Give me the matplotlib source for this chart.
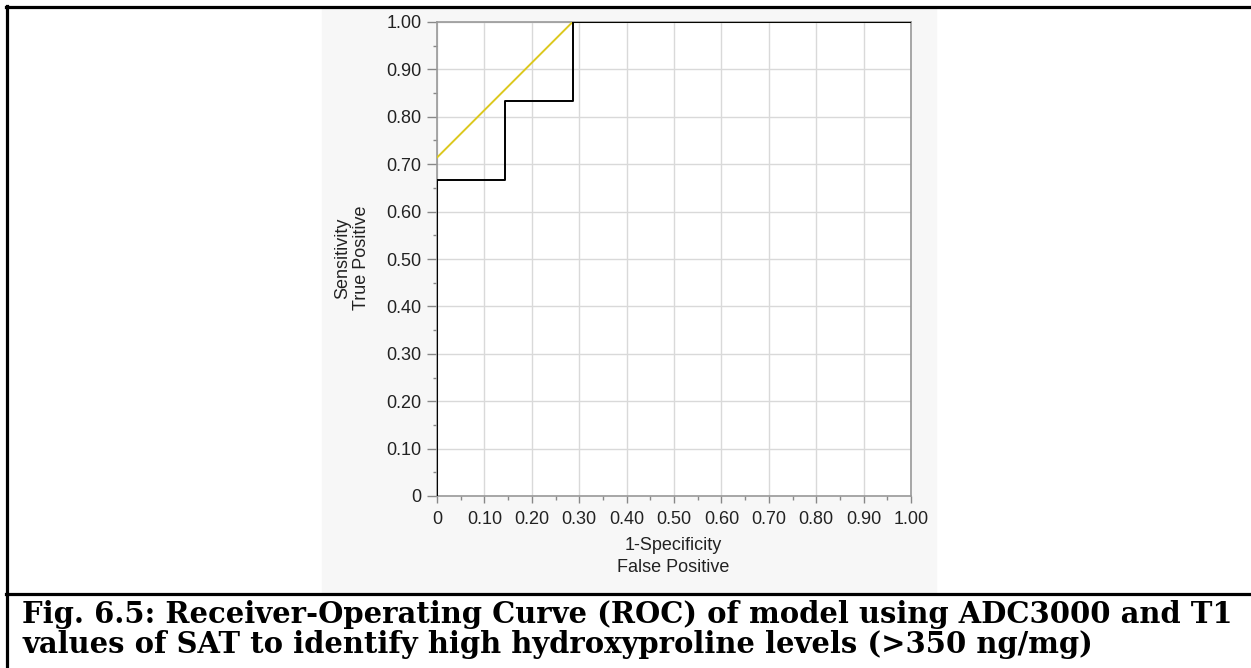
import numpy as np
import matplotlib.pyplot as plt
from matplotlib.patches import Rectangle
from matplotlib.lines import Line2D

# ROC data
fpr_steps = [0.0, 0.0, 0.143, 0.143, 0.286, 0.286, 1.0]
tpr_steps = [0.0, 0.667, 0.667, 0.833, 0.833, 1.0, 1.0]
fpr_fit = [0.0, 0.286, 1.0]
tpr_fit = [0.714, 1.0, 1.0]
tick_vals = [0, 0.1, 0.2, 0.3, 0.4, 0.5, 0.6, 0.7, 0.8, 0.9, 1.0]
tick_labels = ['0', '0.10', '0.20', '0.30', '0.40', '0.50', '0.60', '0.70', '0.80', '0.90', '1.00']
caption = ['Fig. 6.5: Receiver-Operating Curve (ROC) of model using ADC3000 and T1',
           'values of SAT to identify high hydroxyproline levels (>350 ng/mg)']

W, H = 1251, 668
plt.rcParams['font.family'] = ['Liberation Sans', 'DejaVu Sans']
fig = plt.figure(figsize=(W / 100, H / 100), dpi=100)


def fx(px):
    return px / W


def fy(py):
    return 1 - py / H


# light grey panel behind the chart
fig.patches.append(Rectangle((fx(322), fy(593)), fx(936) - fx(322), fy(8) - fy(593),
                             transform=fig.transFigure, color='#f7f7f7', zorder=-5))

ax = fig.add_axes([fx(437), fy(496), fx(911) - fx(437), fy(22) - fy(496)])
ax.set_zorder(2)
ax.set_facecolor('white')
ax.plot(fpr_fit, tpr_fit, color='#dcc81e', lw=1.4, zorder=3)
ax.plot(fpr_steps, tpr_steps, color='black', lw=1.4, zorder=4)

ax.set_xlim(0, 1)
ax.set_ylim(0, 1)
ax.set_xticks(tick_vals)
ax.set_xticklabels(tick_labels)
ax.set_yticks(tick_vals)
ax.set_yticklabels(tick_labels)
ax.set_xticks(np.arange(0.05, 1.0, 0.1), minor=True)
ax.set_yticks(np.arange(0.05, 1.0, 0.1), minor=True)
ax.grid(True, color='#d9d9d9', lw=1.0)
ax.set_axisbelow(True)
ax.tick_params(which='major', length=6, width=1, color='#888888', labelsize=13, labelcolor='#222222')
ax.tick_params(which='minor', length=3, width=1, color='#888888')
ax.tick_params(axis='y', which='major', length=7, pad=4)
ax.tick_params(axis='x', which='major', length=5, pad=6)
for s in ax.spines.values():
    s.set_color('#999999')
    s.set_linewidth(1.2)

fig.text(fx(673), fy(545), '1-Specificity', ha='center', va='center', fontsize=13, color='#222222')
fig.text(fx(673), fy(567), 'False Positive', ha='center', va='center', fontsize=13, color='#222222')
fig.text(fx(343), fy(258), 'Sensitivity', ha='center', va='center', rotation=90, fontsize=13, color='#222222')
fig.text(fx(362), fy(258), 'True Positive', ha='center', va='center', rotation=90, fontsize=13, color='#222222')

# frame lines: top, left, separator above the caption
for (x0, y0, x1, y1) in [(6, 7, W, 7), (7, 6, 7, H), (6, 594, W, 594)]:
    fig.lines.append(Line2D([fx(x0), fx(x1)], [fy(y0), fy(y1)], transform=fig.transFigure,
                            color='black', lw=2.3))

fig.text(fx(22), fy(623), caption[0], ha='left', va='baseline', fontsize=20.9,
         fontweight='bold', family='DejaVu Serif')
fig.text(fx(22), fy(653), caption[1], ha='left', va='baseline', fontsize=20.9,
         fontweight='bold', family='DejaVu Serif')

fig.savefig('out.png', dpi=100)
